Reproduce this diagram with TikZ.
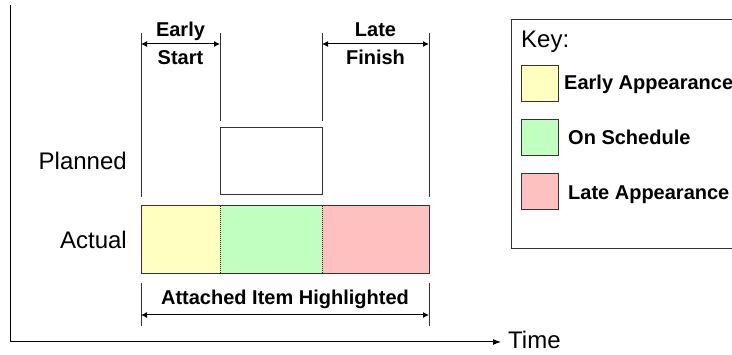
\documentclass[tikz,border=0pt]{standalone}
\usepackage{fontspec}
\setmainfont{Liberation Sans}
\usetikzlibrary{arrows.meta, positioning}

\definecolor{earlyfill}{HTML}{FFFFC0}
\definecolor{onfill}{HTML}{C0FFC0}
\definecolor{latefill}{HTML}{FFC0C0}
\definecolor{edge}{HTML}{333333}

\tikzset{
    biglabel/.style={font=\fontsize{24}{28}\selectfont, inner sep=0pt},
    dimlabel/.style={font=\fontsize{20}{24}\selectfont\bfseries, inner sep=0pt},
    extline/.style={line width=1pt, edge},
    dimline/.style={line width=1pt, {Latex[length=6pt,width=6pt]}-{Latex[length=6pt,width=6pt]}},
    bar/.style={draw=none, minimum height=68pt, inner sep=0pt, outer sep=0pt},
    swatch/.style={draw=edge, line width=1pt, minimum width=37pt, minimum height=36pt, inner sep=0pt}
}

\begin{document}
\begin{tikzpicture}[x=1pt, y=-1pt]
    \clip (0,0) rectangle (732,355);
    % Draw axes
    \coordinate (ytop) at (10,5);
    \coordinate (origin) at (10,342);
    \coordinate (xend) at (501,342);
    \draw[line width=1pt, -{Latex[length=8pt,width=6pt]}]
        (ytop) -- (origin) -- (xend);
    \node[biglabel, anchor=base west] (time) at (508,349) {Time};

    % Row labels
    \node[biglabel, anchor=base east] (plannedlabel) at (127,170) {Planned};
    \node[biglabel, anchor=base east] (actuallabel) at (127,249) {Actual};

    % Planned box
    \node[draw=edge, line width=1pt, minimum width=102pt, minimum height=67pt,
        inner sep=0pt] (planned) at (271,161.5) {};

    % Actual bar, three parts
    \node[bar, fill=earlyfill, minimum width=79pt] (early) at (180.5,240) {};
    \node[bar, fill=onfill, minimum width=102pt] (onsched) at (271,240) {};
    \node[bar, fill=latefill, minimum width=107pt] (late) at (375.5,240) {};
    \draw[line width=1pt, edge] (early.north west) rectangle (late.south east);
    \draw[line width=0.8pt, edge, dash pattern=on 1pt off 1pt]
        (early.north east) -- (early.south east);
    \draw[line width=0.8pt, edge, dash pattern=on 1pt off 1pt]
        (late.north west) -- (late.south west);

    % Extension lines above
    \coordinate (a1) at (141,33);
    \coordinate (a2) at (141,197);
    \coordinate (b1) at (220,33);
    \coordinate (b2) at (220,121);
    \coordinate (c1) at (322,33);
    \coordinate (c2) at (322,121);
    \coordinate (d1) at (429,33);
    \coordinate (d2) at (429,197);
    \draw[extline] (a1) -- (a2);
    \draw[extline] (b1) -- (b2);
    \draw[extline] (c1) -- (c2);
    \draw[extline] (d1) -- (d2);

    % Early start / late finish
    \coordinate (es1) at (141,44);
    \coordinate (es2) at (220,44);
    \coordinate (lf1) at (322,44);
    \coordinate (lf2) at (429,44);
    \draw[dimline] (es1) -- (es2);
    \draw[dimline] (lf1) -- (lf2);
    \node[dimlabel, anchor=base] (early1) at (180.5,37) {Early};
    \node[dimlabel, anchor=base] (early2) at (180.5,65) {Start};
    \node[dimlabel, anchor=base] (late1) at (375.5,37) {Late};
    \node[dimlabel, anchor=base] (late2) at (375.5,65) {Finish};

    % Attached item dimension
    \coordinate (e1) at (141,283);
    \coordinate (e2) at (141,326);
    \coordinate (f1) at (429,283);
    \coordinate (f2) at (429,326);
    \draw[extline] (e1) -- (e2);
    \draw[extline] (f1) -- (f2);
    \coordinate (ai1) at (141,315);
    \coordinate (ai2) at (429,315);
    \draw[dimline] (ai1) -- (ai2);
    \node[dimlabel, anchor=base] (attached) at (285,305) {Attached Item Highlighted};

    % Key
    \draw[line width=1pt, edge] (511,20) rectangle (745,249);
    \node[biglabel, anchor=base west] (key) at (521,48) {Key:};
    \node[swatch, fill=earlyfill] (k1) at (539.5,84) {};
    \node[swatch, fill=onfill] (k2) at (539.5,138) {};
    \node[swatch, fill=latefill] (k3) at (539.5,191.5) {};
    \node[dimlabel, anchor=base west] (k1text) at (564,90) {Early Appearance};
    \node[dimlabel, anchor=base west] (k2text) at (568,145) {On Schedule};
    \node[dimlabel, anchor=base west] (k3text) at (568,200) {Late Appearance};
\end{tikzpicture}
\end{document}
